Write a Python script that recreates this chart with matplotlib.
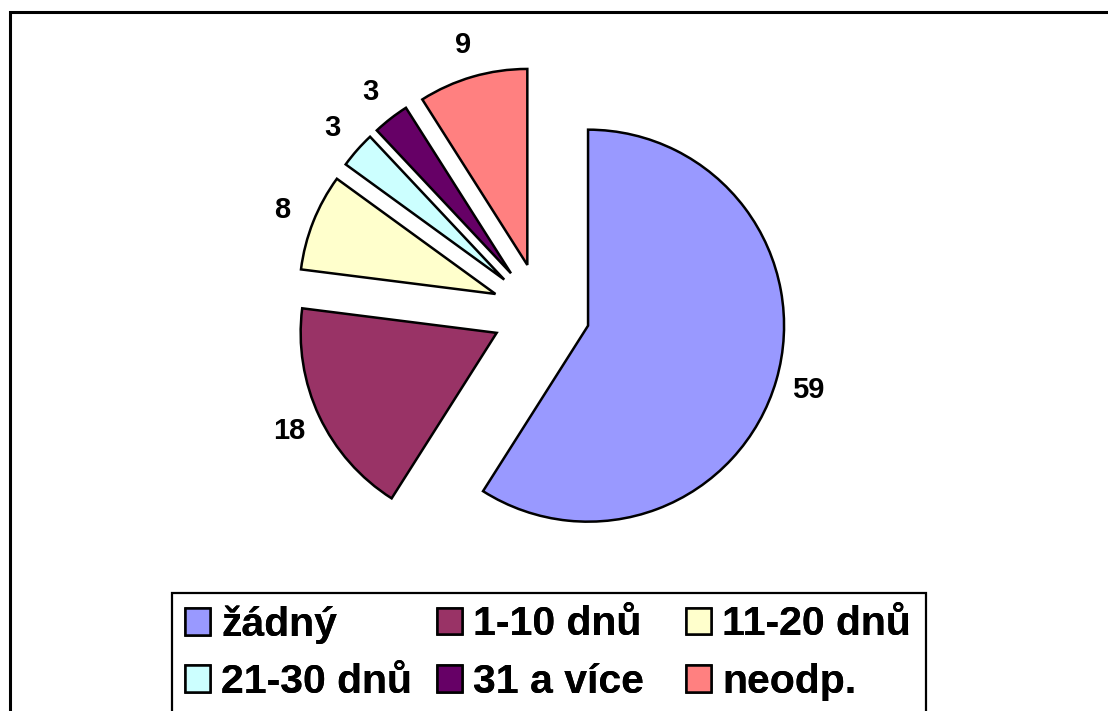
import matplotlib
matplotlib.use("Agg")
import matplotlib.pyplot as plt
import matplotlib.patches as mpatches

plt.rcParams['font.family'] = ['Liberation Sans', 'DejaVu Sans']

# data
categories = ['žádný', '1-10 dnů', '11-20 dnů', '21-30 dnů', '31 a více', 'neodp.']
values = [59, 18, 8, 3, 3, 9]
colours = ['#9999FF', '#993366', '#FFFFCC', '#CCFFFF', '#660066', '#FF8080']

W, H = 1108, 711
fig = plt.figure(figsize=(W / 100, H / 100), dpi=100)
ax = fig.add_axes([0, 0, 1, 1])

# pie centre / radius in pixels, used to set the axes scale
cx, cy, rad = 541, 312, 196

wedges, texts = ax.pie(
    values,
    labels=[str(v) for v in values],
    colors=colours,
    startangle=90,
    counterclock=False,
    explode=[0.25] * len(values),
    labeldistance=1.17,
    wedgeprops=dict(edgecolor='black', linewidth=1.8),
    textprops=dict(fontsize=21, fontweight='bold'),
)
for t in texts:
    t.set_horizontalalignment('center')
    t.set_verticalalignment('center')

ax.set_xlim(-cx / rad, (W - cx) / rad)
ax.set_ylim((cy - H) / rad, cy / rad)
ax.set_axis_off()

# outer chart border (right and bottom edge fall outside the picture)
fig.patches.append(mpatches.Rectangle(
    (10 / W, -0.1), 1.2, 1 - 12 / H + 0.1, transform=fig.transFigure,
    fill=False, edgecolor='black', linewidth=2.2))

# legend box
fig.patches.append(mpatches.Rectangle(
    (172 / W, -0.1), (926 - 172) / W, 1 - 593 / H + 0.1, transform=fig.transFigure,
    fill=False, edgecolor='black', linewidth=1.6))

# legend, one column at a time so columns line up like the original
col_x = [185, 437, 686]
for i, x in enumerate(col_x):
    idx = [i, i + 3]
    leg = fig.legend(
        [wedges[j] for j in idx], [categories[j] for j in idx],
        loc='center left', bbox_to_anchor=(x / W, 1 - 653 / H),
        frameon=False, borderpad=0, borderaxespad=0,
        handlelength=0.6, handleheight=0.63, handletextpad=0.28,
        labelspacing=0.47,
        prop=dict(size=29.5, weight='bold'),
    )
    fig.add_artist(leg)

fig.savefig('out.png', dpi=100)
